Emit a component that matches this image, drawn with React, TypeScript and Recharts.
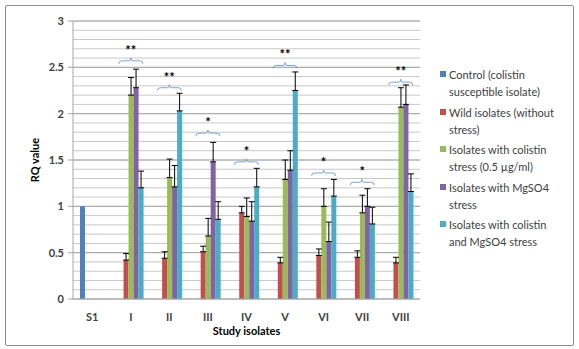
import { BarChart, Bar, XAxis, YAxis, CartesianGrid, ErrorBar, ReferenceDot } from 'recharts';

const isolates = ['S1', 'I', 'II', 'III', 'IV', 'V', 'VI', 'VII', 'VIII'];

// RQ values per series (null = not measured)
const control = [1.0, null, null, null, null, null, null, null, null];
const wild = [null, 0.42, 0.44, 0.51, 0.93, 0.39, 0.47, 0.45, 0.39];
const colistin = [null, 2.2, 1.31, 0.68, 0.89, 1.29, 1.0, 0.93, 2.07];
const mgso4 = [null, 2.28, 1.21, 1.48, 0.84, 1.39, 0.62, 1.0, 2.1];
const both = [null, 1.2, 2.03, 0.86, 1.21, 2.25, 1.11, 0.81, 1.16];

// upper error (SD) per series
const wildErr = [null, 0.07, 0.07, 0.06, 0.07, 0.06, 0.07, 0.07, 0.06];
const colistinErr = [null, 0.19, 0.2, 0.19, 0.2, 0.21, 0.19, 0.19, 0.21];
const mgso4Err = [null, 0.2, 0.23, 0.21, 0.21, 0.21, 0.21, 0.19, 0.21];
const bothErr = [null, 0.18, 0.19, 0.19, 0.2, 0.2, 0.18, 0.18, 0.19];

// significance brackets
const sigIsolates = ['I', 'II', 'III', 'IV', 'V', 'VI', 'VII', 'VIII'];
const sigLevels = [2.57, 2.28, 1.79, 1.48, 2.52, 1.36, 1.26, 2.34];
const sigMarks = ['**', '**', '*', '*', '**', '*', '*', '**'];

const yTicks = [0, 0.5, 1, 1.5, 2, 2.5, 3];
const minorGrid = Array.from({ length: 30 }, (_, i) => Math.round((i + 1) * 10) / 100);

const series = [
  { key: 'control', err: null, color: '#4F81BD', lines: ['Control (colistin', 'susceptible isolate)'] },
  { key: 'wild', err: 'wildErr', color: '#C0504D', lines: ['Wild isolates (without', 'stress)'] },
  { key: 'colistin', err: 'colistinErr', color: '#9BBB59', lines: ['Isolates with colistin', 'stress (0.5 µg/ml)'] },
  { key: 'mgso4', err: 'mgso4Err', color: '#8064A2', lines: ['Isolates with MgSO4', 'stress'] },
  { key: 'both', err: 'bothErr', color: '#4BACC6', lines: ['Isolates with colistin', 'and MgSO4 stress'] },
];

const pair = (e: number | null) => (e == null ? null : [0, e]);

const data = isolates.map((name, i) => ({
  name,
  control: control[i],
  wild: wild[i],
  colistin: colistin[i],
  mgso4: mgso4[i],
  both: both[i],
  wildErr: pair(wildErr[i]),
  colistinErr: pair(colistinErr[i]),
  mgso4Err: pair(mgso4Err[i]),
  bothErr: pair(bothErr[i]),
}));

const font = 'Lato, "Open Sans", sans-serif';

const Bracket = (props: any) => {
  const { cx, cy, mark } = props;
  if (cx == null || cy == null) return null;
  const d = `M${cx - 12},${cy + 3} Q${cx - 12},${cy} ${cx - 9},${cy} L${cx - 2},${cy} Q${cx},${cy} ${cx},${cy - 3} Q${cx},${cy} ${cx + 2},${cy} L${cx + 9},${cy} Q${cx + 12},${cy} ${cx + 12},${cy + 3}`;
  return (
    <g>
      <path d={d} fill="none" stroke="#7F9FD3" strokeWidth={1} />
      <text x={cx} y={cy - 6} textAnchor="middle" fontSize={13} fontWeight="bold" fill="#000" fontFamily={font}>
        {mark}
      </text>
    </g>
  );
};

export default function App() {
  return (
    <div style={{ position: 'fixed', left: 0, top: 0, width: 579, height: 349, background: '#fff' }}>
      <div style={{ position: 'absolute', left: 5, top: 5, width: 567, height: 339, border: '1px solid #8C8C8C', borderRadius: 2 }} />
      <BarChart
        width={579}
        height={349}
        data={data}
        margin={{ top: 21, right: 159, bottom: 20, left: 13 }}
        barSize={5}
        barGap={0}
      >
        <CartesianGrid horizontal vertical={false} horizontalValues={minorGrid} stroke="#C8C8C8" />
        <CartesianGrid horizontal vertical={false} horizontalValues={yTicks} stroke="#A6A6A6" />
        <XAxis
          dataKey="name"
          height={30}
          tickLine={false}
          axisLine={{ stroke: '#A6A6A6' }}
          tickMargin={8}
          tick={{ fontSize: 11, fontWeight: 'bold', fill: '#404040', fontFamily: font }}
          label={(p: any) => (
            <text
              x={p.viewBox.x + p.viewBox.width / 2}
              y={p.viewBox.y + 36}
              textAnchor="middle"
              fontSize={11}
              fontWeight="bold"
              fill="#000"
              fontFamily={font}
            >
              Study isolates
            </text>
          )}
        />
        <YAxis
          width={60}
          domain={[0, 3]}
          ticks={yTicks}
          interval={0}
          tickSize={5}
          tickMargin={4}
          tickLine={{ stroke: '#A6A6A6' }}
          axisLine={{ stroke: '#A6A6A6' }}
          tick={{ fontSize: 11, fontWeight: 'bold', fill: '#404040', fontFamily: font }}
          label={(p: any) => (
            <text
              x={p.viewBox.x + 23}
              y={p.viewBox.y + p.viewBox.height / 2}
              transform={`rotate(-90 ${p.viewBox.x + 23} ${p.viewBox.y + p.viewBox.height / 2})`}
              textAnchor="middle"
              dominantBaseline="middle"
              fontSize={11}
              fontWeight="bold"
              fill="#000"
              fontFamily={font}
            >
              RQ value
            </text>
          )}
        />
        {series.map((s) => (
          <Bar key={s.key} dataKey={s.key} fill={s.color} isAnimationActive={false}>
            {s.err && <ErrorBar dataKey={s.err} direction="y" width={3} stroke="#000" strokeWidth={1} />}
          </Bar>
        ))}
        {sigIsolates.map((name, i) => (
          <ReferenceDot
            key={name}
            x={name}
            y={sigLevels[i]}
            shape={(p: any) => <Bracket {...p} mark={sigMarks[i]} />}
          />
        ))}
      </BarChart>
      <div style={{ position: 'absolute', left: 440, top: 66, fontFamily: font, fontSize: 11, color: '#404040' }}>
        {series.map((s) => (
          <div key={s.key} style={{ position: 'relative', paddingLeft: 9, marginBottom: 3.5, lineHeight: '17px' }}>
            <span style={{ position: 'absolute', left: 0, top: 5, width: 6, height: 6, background: s.color }} />
            {s.lines.map((l) => (
              <div key={l}>{l}</div>
            ))}
          </div>
        ))}
      </div>
    </div>
  );
}
